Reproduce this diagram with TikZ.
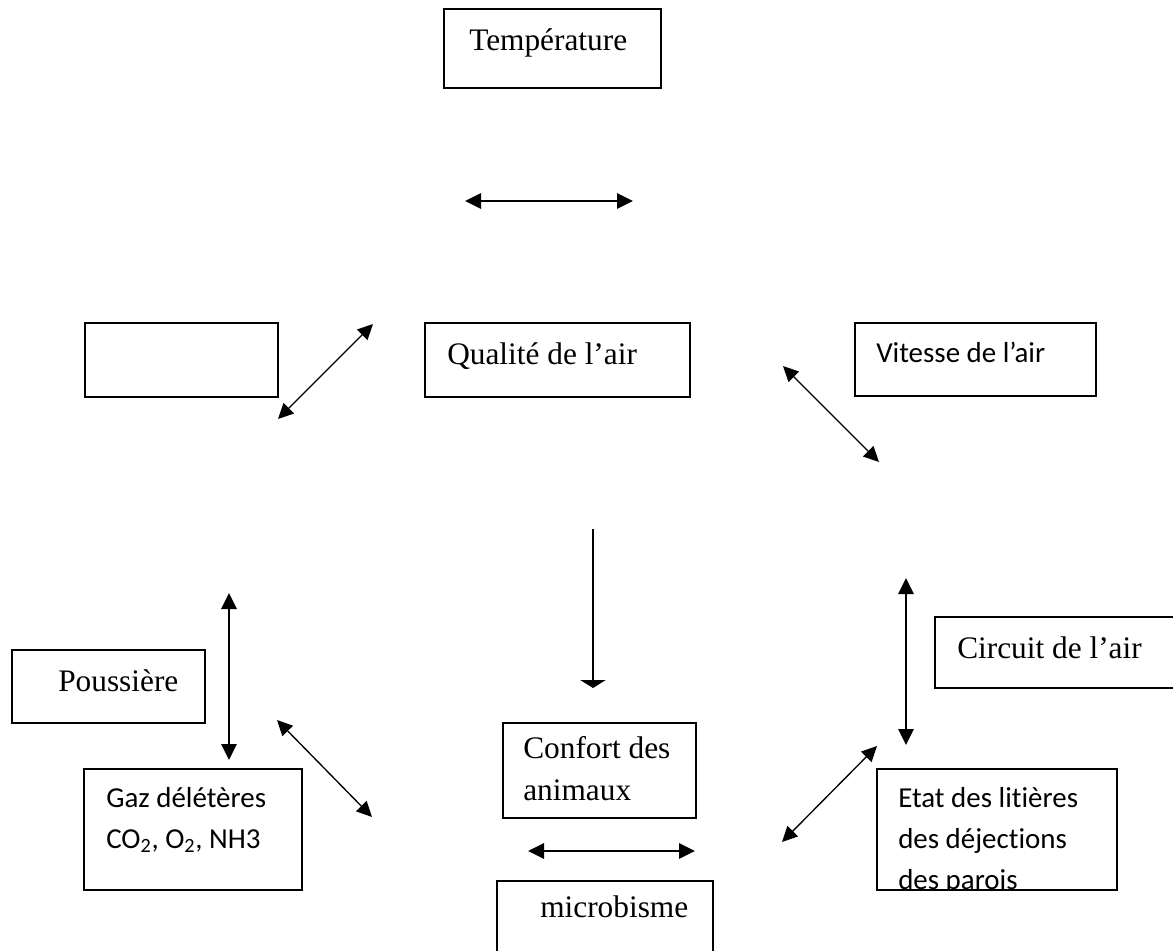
\documentclass[tikz,border=0pt]{standalone}
\usepackage{fontspec}
\setmainfont{Liberation Serif}
\newfontfamily\calibri[Ligatures=NoCommon]{Carlito}
\usetikzlibrary{arrows.meta}

\begin{document}
\begin{tikzpicture}[x=0.75pt,y=0.75pt,yscale=-1,
	box/.style={line width=1pt},
	serif/.style={inner sep=0pt,font=\fontsize{23.5}{31.5}\selectfont,anchor=base west,align=left},
	sans/.style={inner sep=0pt,font=\calibri\fontsize{21.7}{30.75}\selectfont,anchor=base west,align=left},
	dbl/.style={line width=1.3pt,{Triangle[length=12pt,width=11.5pt]}-{Triangle[length=12pt,width=11.5pt]}},
	diag/.style={line width=1pt,{Triangle[length=11.5pt,width=11pt]}-{Triangle[length=11.5pt,width=11pt]}}]
	\useasboundingbox (0,0) rectangle (1173,950);
	%Shape: Rectangle [Temperature]
	\draw[box] (444,9) rectangle (661,88);
	\node[serif] (temp) at (469,50) {Température};
	%Shape: Rectangle [empty]
	\draw[box] (85,323) rectangle (278,397);
	%Shape: Rectangle [Qualite]
	\draw[box] (425,323) rectangle (690,397);
	\node[serif] (qual) at (447,364) {Qualité de l’air};
	%Shape: Rectangle [Vitesse]
	\draw[box] (855,323) rectangle (1096,396);
	\node[sans] (vit) at (876,362) {Vitesse de l’air};
	%Shape: Rectangle [Poussiere]
	\draw[box] (12,650) rectangle (205,723);
	\node[serif] (pous) at (58,691) {Poussière};
	%Shape: Rectangle [Gaz] (base = last line)
	\draw[box] (84,769) rectangle (302,890);
	\node[sans] (gaz) at (106,848) {Gaz délétères\\CO\textsubscript{2}, O\textsubscript{2}, NH3};
	%Shape: Rectangle [Confort]
	\draw[box] (503,723) rectangle (696,818);
	\node[serif] (conf) at (523,800) {Confort des\\animaux};
	%Shape: Rectangle [microbisme]
	\draw[box] (497,881) rectangle (713,960);
	\node[serif] (micro) at (540,917) {microbisme};
	%Shape: Rectangle [Circuit]
	\draw[box] (935,617) rectangle (1180,688);
	\node[serif] (circ) at (957,658) {Circuit de l’air};
	%Shape: Rectangle [Etat]
	\begin{scope}
		\clip (877,769) rectangle (1117,890);
		\node[sans] (etat) at (898,889) {Etat des litières\\des déjections\\des parois};
	\end{scope}
	\draw[box] (877,769) rectangle (1117,890);

	%Straight Lines
	\coordinate (t1) at (465,201); \coordinate (t2) at (633,201);
	\coordinate (l1) at (278,419); \coordinate (l2) at (373,324);
	\coordinate (r1) at (783,366); \coordinate (r2) at (879,462);
	\coordinate (c1) at (593,529); \coordinate (c2) at (593,688);
	\coordinate (p1) at (229,593); \coordinate (p2) at (229,760);
	\coordinate (g1) at (277,720); \coordinate (g2) at (372,817);
	\coordinate (v1) at (906,578); \coordinate (v2) at (906,745);
	\coordinate (e1) at (782,842); \coordinate (e2) at (877,746);
	\coordinate (b1) at (528,851); \coordinate (b2) at (695,851);
	\draw[dbl] (t1) -- (t2);
	\draw[diag] (l1) -- (l2);
	\draw[diag] (r1) -- (r2);
	\draw[line width=1.3pt,-{Triangle[length=6pt,width=19pt]}] (c1) -- (c2);
	\draw[dbl] (p1) -- (p2);
	\draw[diag] (g1) -- (g2);
	\draw[dbl] (v1) -- (v2);
	\draw[diag] (e1) -- (e2);
	\draw[dbl] (b1) -- (b2);
\end{tikzpicture}
\end{document}
